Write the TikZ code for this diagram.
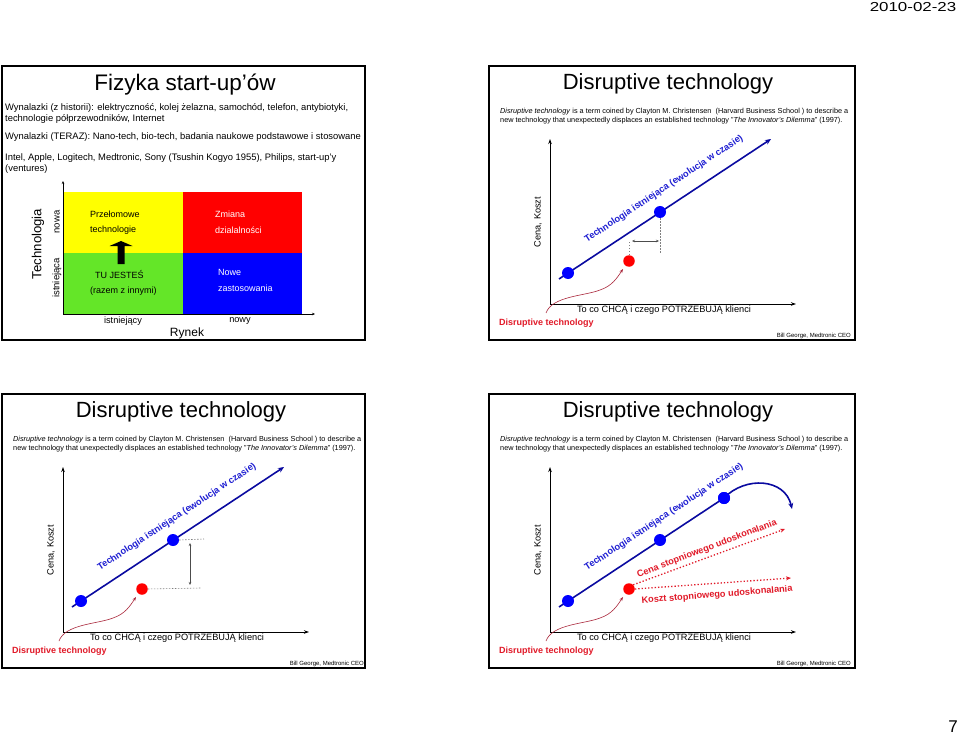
\documentclass[tikz,border=0pt]{standalone}
\usepackage{fontspec}
\setmainfont{Liberation Sans}
\usetikzlibrary{arrows.meta}
\newcommand\myfs[1]{\fontsize{#1}{#1}\selectfont}
\definecolor{dblue}{RGB}{10,10,160}
\definecolor{tblue}{RGB}{30,30,210}
\definecolor{dred}{RGB}{225,25,40}
\definecolor{mred}{RGB}{170,40,60}
\definecolor{qyellow}{RGB}{255,255,0}
\definecolor{qred}{RGB}{255,0,0}
\definecolor{qgreen}{RGB}{100,230,40}
\definecolor{qblue}{RGB}{0,0,255}
\tikzset{
 frame/.style={draw=black, line width=1.3pt},
 ttl/.style={font=\myfs{22}, inner sep=0pt},
 body/.style={font=\myfs{7.3}, inner sep=0pt, anchor=west},
 tlbody/.style={font=\myfs{9.4}, inner sep=0pt, anchor=west},
 qtext/.style={font=\myfs{9}, inner sep=0pt, anchor=west},
 tlaxis/.style={draw=black, line width=0.6pt, -{Stealth[length=3pt,width=2.5pt]}},
 axis/.style={draw=black, line width=0.9pt, -{Stealth[length=5pt,width=3.5pt]}},
 bluedot/.style={circle, fill=qblue, minimum size=12pt, inner sep=0pt},
 reddot/.style={circle, fill=qred, minimum size=11.5pt, inner sep=0pt},
 blueline/.style={draw=dblue, line width=1.6pt},
 bluetext/.style={font=\myfs{9.3}\bfseries, text=tblue, inner sep=0pt, rotate=33.4},
 redlab/.style={font=\myfs{9}\bfseries, text=dred, inner sep=0pt},
 gdash/.style={draw=gray, line width=0.6pt, dash pattern=on 1.5pt off 1.5pt},
 garrow/.style={draw=black!70, line width=0.6pt, {Stealth[length=3pt,width=2.5pt]}-{Stealth[length=3pt,width=2.5pt]}},
 reddots/.style={draw=dred, line width=1.3pt, dotted, -{Stealth[length=5pt,width=4pt]}},
 smalltxt/.style={font=\myfs{6}, inner sep=0pt},
 lab/.style={font=\myfs{9.2}, inner sep=0pt},
}
\newcommand\dtchart[3]{%
\begin{scope}[shift={(#2,#3)}]
 \node[ttl] (#1title) at (668,84) {Disruptive technology};
 \node[body] (#1b1) at (500,112) {\textit{Disruptive technology} is a term coined by Clayton M. Christensen \ (Harvard Business School ) to describe a};
 \node[body] (#1b2) at (500,121) {new technology that unexpectedly displaces an established technology "\textit{The Innovator's Dilemma}" (1997).};
 \coordinate (#1o) at (550,304);
 \coordinate (#1ytop) at (550,139);
 \coordinate (#1xend) at (796,304);
 \draw[axis] (#1o) -- (#1ytop);
 \draw[axis] (#1o) -- (#1xend);
 \node[lab, rotate=90] (#1ylab) at (538,222) {Cena, Koszt};
 \node[lab] (#1xlab) at (664,310) {To co CHCĄ i czego POTRZEBUJĄ klienci};
 \node[redlab, anchor=west] (#1dt) at (499,323) {Disruptive technology};
 \node[smalltxt, anchor=east] (#1bg) at (851,336) {Bill George, Medtronic CEO};
 \coordinate (#1ls) at (559,279);
 \coordinate (#1cs) at (546,313);
 \coordinate (#1cm) at (600,290);
 \coordinate (#1ce) at (623,269);
\end{scope}}
\newcommand\dtdots[3]{%
\begin{scope}[shift={(#2,#3)}]
 \node[bluedot] (#1d1) at (568,273) {};
 \node[bluedot] (#1d2) at (660,212) {};
 \node[reddot] (#1r) at (629,261) {};
 \draw[mred, line width=0.6pt, -{Stealth[length=4pt,width=3pt]}] (#1cs) .. controls (552,296) and (585,296) .. (#1cm) .. controls (612,286) and (617,278) .. (#1ce);
 \node[bluetext] (#1tl) at (664,189) {Technologia istniejąca (ewolucja w czasie)};
\end{scope}}
\begin{document}
\begin{tikzpicture}[x=1pt,y=-1pt]
\useasboundingbox (0,0) rectangle (960,735);
\fill[white] (0,0) rectangle (960,735);
% header / footer
\node[inner sep=0pt] (date) at (913,7) {\scalebox{1.3}[1]{\myfs{13}2010-02-23}};
\node[inner sep=0pt, font=\myfs{17}] (pg) at (953,727) {7};
% frames
\draw[frame] (2,66) rectangle (365,340);
\draw[frame] (489,66) rectangle (855,340);
\draw[frame] (2,394) rectangle (365,668);
\draw[frame] (489,394) rectangle (855,668);
% ---------- slide 1 ----------
\node[inner sep=0pt, font=\myfs{22.5}] (t1) at (185,85) {Fizyka start-up’ów};
\node[tlbody] (l1) at (5,108) {Wynalazki (z historii): elektryczność, kolej żelazna, samochód, telefon, antybiotyki,};
\node[tlbody] (l2) at (5,119) {technologie półprzewodników, Internet};
\node[tlbody] (l3) at (5,137) {Wynalazki (TERAZ): Nano-tech, bio-tech, badania naukowe podstawowe i stosowane};
\node[tlbody] (l4) at (5,158) {Intel, Apple, Logitech, Medtronic, Sony (Tsushin Kogyo 1955), Philips, start-up’y};
\node[tlbody] (l5) at (5,169) {(ventures)};
\fill[qyellow] (64,192) rectangle (183,253);
\fill[qred] (183,192) rectangle (302,253);
\fill[qgreen] (64,253) rectangle (183,314);
\fill[qblue] (183,253) rectangle (302,314);
\coordinate (qo) at (63,314);
\coordinate (qy) at (63,181);
\coordinate (qx) at (315,314);
\draw[tlaxis] (qo) -- (qy);
\draw[tlaxis] (qo) -- (qx);
\fill[black] (117.5,264) -- (117.5,246) -- (109.5,246) -- (121,241) -- (132.5,246) -- (124.5,246) -- (124.5,264) -- cycle;
\node[qtext] (q1a) at (90,214) {Przełomowe};
\node[qtext] (q1b) at (90,230) {technologie};
\node[qtext, text=white] (q2a) at (215,214) {Zmiana};
\node[qtext, text=white] (q2b) at (215,230) {dzialalności};
\node[qtext] (q3a) at (95,275) {TU JESTEŚ};
\node[qtext] (q3b) at (90,291) {(razem z innymi)};
\node[qtext, text=white] (q4a) at (218,272) {Nowe};
\node[qtext, text=white] (q4b) at (218,288) {zastosowania};
\node[inner sep=0pt, font=\myfs{13.2}, rotate=90] (tech) at (38,244) {Technologia};
\node[inner sep=0pt, font=\myfs{9.5}, rotate=90] (nowa) at (57,222) {nowa};
\node[inner sep=0pt, font=\myfs{9.5}, rotate=90] (istn) at (57,278) {istniejąca};
\node[lab] (istr) at (123,321) {istniejący};
\node[lab] (nowy) at (240,321) {nowy};
\node[inner sep=0pt, font=\myfs{12}] (rynek) at (187,333) {Rynek};
% ---------- slide 2 (top right) ----------
\dtchart{a}{0}{0}
\draw[blueline, -{Stealth[length=6pt,width=5pt]}] (als) -- (771,139);
\dtdots{a}{0}{0}
\draw[gdash] (ar.north) -- (629,242);
\draw[gdash] (ad2.south) -- (660,254);
\draw[garrow] (632,241) -- (659,241);
% ---------- slide 3 (bottom left) ----------
\dtchart{b}{-487}{328}
\draw[blueline, -{Stealth[length=6pt,width=5pt]}] (bls) -- (284,467);
\dtdots{b}{-487}{328}
\draw[gdash] (bd2.east) -- (204,539);
\draw[gdash] (br.east) -- (201,588);
\draw[garrow] (190,543) -- (190,585);
% ---------- slide 4 (bottom right) ----------
\dtchart{c}{0}{328}
\node[bluedot] (cd3) at (724,498) {};
\draw[blueline] (cls) -- (cd3.center);
\draw[blueline, -{Stealth[length=6pt,width=5pt]}] (cd3.center) .. controls (745,476) and (785,478) .. (792,509);
\node[bluedot] (cd3b) at (724,498) {};
\dtdots{c}{0}{328}
\draw[reddots] (cr.north east) -- (785,529);
\draw[reddots] (cr.east) -- (791,578);
\node[redlab, font=\myfs{9.2}\bfseries, rotate=20.9] (cena) at (707,549) {Cena stopniowego udoskonalania};
\node[redlab, font=\myfs{9.2}\bfseries, rotate=4.5] (koszt) at (717,595) {Koszt stopniowego udoskonalania};
\end{tikzpicture}
\end{document}
